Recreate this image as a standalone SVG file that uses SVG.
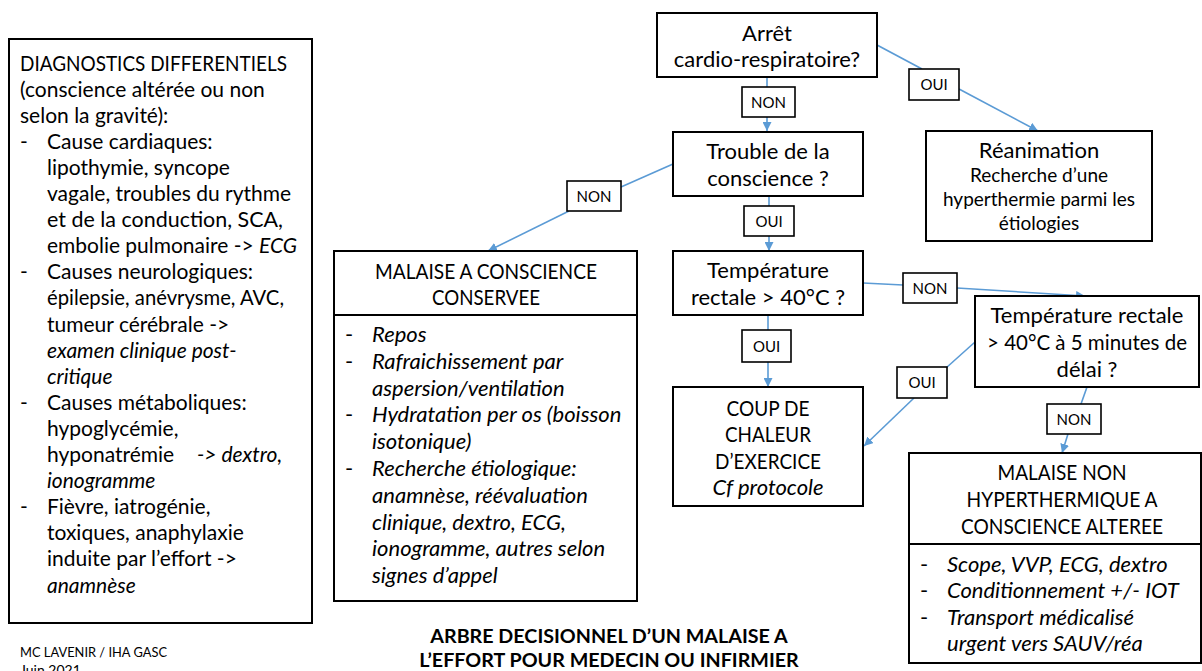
<svg xmlns="http://www.w3.org/2000/svg" width="1202" height="671" viewBox="0 0 1202 671">
<defs>
<style>
text{font-family:Lato,"Liberation Sans",sans-serif;fill:#000}
.t{font-size:22px}
.r{font-size:21px}
.c{text-anchor:middle}
.s{font-size:19px}
.i{font-style:italic}
.lab{font-size:15px;text-anchor:middle}
.box{fill:#fff;stroke:#000;stroke-width:2}
.lb{fill:#fff;stroke:#000;stroke-width:1.6}
.con{fill:none;stroke:#5B9BD5;stroke-width:1.6}
.ttl{font-size:19.7px;font-weight:bold;text-anchor:middle}
.cr{font-size:14px}
</style>
<marker id="ah" viewBox="0 0 10 10" refX="10" refY="5" markerWidth="9" markerHeight="9" markerUnits="userSpaceOnUse" orient="auto">
<path d="M0,0 L10,5 L0,10 z" fill="#5B9BD5"/>
</marker>
</defs>
<rect width="1202" height="671" fill="#fff"/>

<g id="connectors">
<line class="con" x1="767" y1="77" x2="767" y2="87"/>
<line class="con" x1="767" y1="117" x2="767" y2="131" marker-end="url(#ah)"/>
<line class="con" x1="877" y1="45" x2="922" y2="69"/>
<line class="con" x1="959" y1="89" x2="1038" y2="131" marker-end="url(#ah)"/>
<line class="con" x1="673" y1="164" x2="621" y2="187"/>
<line class="con" x1="569" y1="211" x2="488" y2="251" marker-end="url(#ah)"/>
<line class="con" x1="769" y1="196" x2="769" y2="206"/>
<line class="con" x1="769" y1="236" x2="769" y2="251" marker-end="url(#ah)"/>
<line class="con" x1="863" y1="283" x2="903" y2="285"/>
<line class="con" x1="957" y1="288" x2="1085" y2="296" marker-end="url(#ah)"/>
<line class="con" x1="768" y1="315" x2="768" y2="330"/>
<line class="con" x1="768" y1="362" x2="768" y2="387" marker-end="url(#ah)"/>
<line class="con" x1="975" y1="342" x2="946" y2="368"/>
<line class="con" x1="914" y1="398" x2="864" y2="446" marker-end="url(#ah)"/>
<line class="con" x1="1087" y1="387" x2="1081" y2="404"/>
<line class="con" x1="1068" y1="434" x2="1062" y2="453" marker-end="url(#ah)"/>
</g>

<g id="labels">
<rect class="lb" x="742" y="87" width="53" height="30"/><text class="lab" x="768.5" y="107.5">NON</text>
<rect class="lb" x="909" y="69" width="50" height="31"/><text class="lab" x="934" y="90">OUI</text>
<rect class="lb" x="567" y="181" width="54" height="30"/><text class="lab" x="594" y="201.5">NON</text>
<rect class="lb" x="744" y="206" width="50" height="30"/><text class="lab" x="769" y="226.5">OUI</text>
<rect class="lb" x="742" y="330" width="49" height="32"/><text class="lab" x="766.5" y="351.5">OUI</text>
<rect class="lb" x="903" y="273" width="54" height="30"/><text class="lab" x="930" y="293.5">NON</text>
<rect class="lb" x="897" y="367" width="50" height="31"/><text class="lab" x="922" y="388">OUI</text>
<rect class="lb" x="1047" y="404" width="54" height="30"/><text class="lab" x="1074" y="424.5">NON</text>
</g>

<g id="diagnostics">
<rect class="box" x="9" y="39" width="303" height="584"/>
<g class="r">
<text x="20" y="70.5" textLength="267" lengthAdjust="spacingAndGlyphs">DIAGNOSTICS DIFFERENTIELS</text>
<text x="20" y="96.6">(conscience altérée ou non</text>
<text x="20" y="122.7">selon la gravité):</text>
<text x="20" y="148.8">-</text><text x="47" y="148.8">Cause cardiaques:</text>
<text x="47" y="174.9">lipothymie, syncope</text>
<text x="47" y="201">vagale, troubles du rythme</text>
<text x="47" y="227.1" textLength="236" lengthAdjust="spacingAndGlyphs">et de la conduction, SCA,</text>
<text x="47" y="253.2" textLength="250" lengthAdjust="spacingAndGlyphs">embolie pulmonaire -&gt; <tspan class="i">ECG</tspan></text>
<text x="20" y="279.3">-</text><text x="47" y="279.3">Causes neurologiques:</text>
<text x="47" y="305.4" textLength="237" lengthAdjust="spacingAndGlyphs">épilepsie, anévrysme, AVC,</text>
<text x="47" y="331.5">tumeur cérébrale -&gt;</text>
<text class="i" x="47" y="357.6">examen clinique post-</text>
<text class="i" x="47" y="383.7">critique</text>
<text x="20" y="409.8">-</text><text x="47" y="409.8">Causes métaboliques:</text>
<text x="47" y="435.9">hypoglycémie,</text>
<text x="47" y="462">hyponatrémie</text><text class="i" x="197" y="462">-&gt; dextro,</text>
<text class="i" x="47" y="488.1">ionogramme</text>
<text x="20" y="514.2">-</text><text x="47" y="514.2">Fièvre, iatrogénie,</text>
<text x="47" y="540.3">toxiques, anaphylaxie</text>
<text x="47" y="566.4">induite par l’effort -&gt;</text>
<text class="i" x="47" y="592.5">anamnèse</text>
</g>
</g>

<g id="arret">
<rect class="box" x="657" y="13" width="220" height="64"/>
<text class="t c" x="767" y="41">Arrêt</text>
<text class="t c" x="767" y="67">cardio-respiratoire?</text>
</g>

<g id="reanimation">
<rect class="box" x="926" y="131" width="226" height="110"/>
<text class="t c" x="1039" y="158">Réanimation</text>
<text class="s c" x="1039" y="182">Recherche d’une</text>
<text class="s c" x="1039" y="206">hyperthermie parmi les</text>
<text class="s c" x="1039" y="230">étiologies</text>
</g>

<g id="trouble">
<rect class="box" x="673" y="132" width="190" height="64"/>
<text class="t c" x="768" y="159">Trouble de la</text>
<text class="t c" x="768" y="186">conscience ?</text>
</g>

<g id="malaise-conservee">
<rect class="box" x="334" y="251" width="303" height="350"/>
<line x1="334" y1="315" x2="637" y2="315" stroke="#000" stroke-width="2"/>
<text class="t c" x="486" y="279" textLength="222" lengthAdjust="spacingAndGlyphs">MALAISE A CONSCIENCE</text>
<text class="t c" x="486" y="305" textLength="108" lengthAdjust="spacingAndGlyphs">CONSERVEE</text>
<g class="t">
<text x="345" y="342">-</text><text class="i" x="372" y="342">Repos</text>
<text x="345" y="368.8">-</text><text class="i" x="372" y="368.8">Rafraichissement par</text>
<text class="i" x="372" y="395.6">aspersion/ventilation</text>
<text x="345" y="422.4">-</text><text class="i" x="372" y="422.4">Hydratation per os (boisson</text>
<text class="i" x="372" y="449.2">isotonique)</text>
<text x="345" y="476">-</text><text class="i" x="372" y="476">Recherche étiologique:</text>
<text class="i" x="372" y="502.8">anamnèse, réévaluation</text>
<text class="i" x="372" y="529.6">clinique, dextro, ECG,</text>
<text class="i" x="372" y="556.4">ionogramme, autres selon</text>
<text class="i" x="372" y="583.2">signes d’appel</text>
</g>
</g>

<g id="temperature">
<rect class="box" x="673" y="251" width="190" height="64"/>
<text class="t c" x="768" y="278">Température</text>
<text class="t c" x="768" y="305">rectale &gt; 40°C ?</text>
</g>

<g id="temperature-5min">
<rect class="box" x="975" y="296" width="224" height="91"/>
<text class="t c" x="1087" y="323">Température rectale</text>
<text class="t c" x="1087" y="350" textLength="200" lengthAdjust="spacingAndGlyphs">&gt; 40°C à 5 minutes de</text>
<text class="t c" x="1087" y="377">délai ?</text>
</g>

<g id="coup-de-chaleur">
<rect class="box" x="673" y="387" width="190" height="119"/>
<text class="t c" x="768" y="416" textLength="83" lengthAdjust="spacingAndGlyphs">COUP DE</text>
<text class="t c" x="768" y="442" textLength="86" lengthAdjust="spacingAndGlyphs">CHALEUR</text>
<text class="t c" x="768" y="469" textLength="106" lengthAdjust="spacingAndGlyphs">D’EXERCICE</text>
<text class="t c i" x="768" y="495">Cf protocole</text>
</g>

<g id="malaise-non-hyperthermique">
<rect class="box" x="909" y="453" width="292" height="210"/>
<line x1="909" y1="544" x2="1201" y2="544" stroke="#000" stroke-width="2"/>
<text class="t c" x="1062" y="480" textLength="129" lengthAdjust="spacingAndGlyphs">MALAISE NON</text>
<text class="t c" x="1062" y="507" textLength="191" lengthAdjust="spacingAndGlyphs">HYPERTHERMIQUE A</text>
<text class="t c" x="1062" y="534" textLength="202" lengthAdjust="spacingAndGlyphs">CONSCIENCE ALTEREE</text>
<g class="t">
<text x="920" y="572">-</text><text class="i" x="947" y="572">Scope, VVP, ECG, dextro</text>
<text x="920" y="598">-</text><text class="i" x="947" y="598">Conditionnement +/- IOT</text>
<text x="920" y="625">-</text><text class="i" x="947" y="625">Transport médicalisé</text>
<text class="i" x="947" y="651">urgent vers SAUV/réa</text>
</g>
</g>

<g id="title">
<text class="ttl" x="609" y="643">ARBRE DECISIONNEL D’UN MALAISE A</text>
<text class="ttl" x="609" y="667">L’EFFORT POUR MEDECIN OU INFIRMIER</text>
</g>

<g id="credit">
<text class="cr" x="20" y="657" textLength="147" lengthAdjust="spacingAndGlyphs">MC LAVENIR / IHA GASC</text>
<text class="cr" x="20" y="675">Juin 2021</text>
</g>
</svg>
